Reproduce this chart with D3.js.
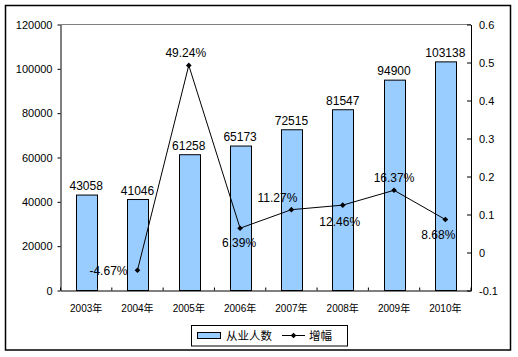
<!DOCTYPE html>
<html><head><meta charset="utf-8">
<script src="https://cdn.jsdelivr.net/npm/d3@7"></script>
<style>
html,body{margin:0;padding:0;background:#fff;}
svg{display:block;}
text{font-family:"Liberation Sans",Arial,"Noto Sans CJK SC",sans-serif;fill:#000;}
.cjk{font-family:"Liberation Sans",Arial,"Noto Sans CJK SC",sans-serif;}
</style>
</head><body>
<svg id="c" width="518" height="357"></svg>
<script>
const categories = ["2003年","2004年","2005年","2006年","2007年","2008年","2009年","2010年"];
const employees = [43058,41046,61258,65173,72515,81547,94900,103138];
const growth = [null,-0.0467,0.4924,0.0639,0.1127,0.1246,0.1637,0.0868];
const growthLabels = ["","-4.67%","49.24%","6.39%","11.27%","12.46%","16.37%","8.68%"];
const leftTicks = [0,20000,40000,60000,80000,100000,120000];
const rightTicks = [-0.1,0,0.1,0.2,0.3,0.4,0.5,0.6];
const rightTickLabels = ["-0.1","0","0.1","0.2","0.3","0.4","0.5","0.6"];
const seriesNames = ["从业人数","增幅"];
// label offsets (style): [dx, dy] relative to the point
const growthLabelOffsets = [[0,0],[-29,5],[-3,-8.5],[-1,18.5],[-14,-7.5],[-3,21],[0,-8.5],[-7,19]];

const svg = d3.select("#c");
const L = 60.5, R = 471, T = 24.5, B = 290.5;

// outer border
svg.append("rect").attr("x",5.5).attr("y",5.5).attr("width",505).attr("height",344.5)
  .attr("fill","#fff").attr("stroke","#000").attr("stroke-width",1.5);

const x = d3.scaleBand().domain(categories).range([L,R]).paddingInner(0.6).paddingOuter(0.3);
const yL = d3.scaleLinear().domain([0,120000]).range([B,T]);
const yR = d3.scaleLinear().domain([-0.1,0.6]).range([B,T]);

// plot area top border (gray)
svg.append("line").attr("x1",L).attr("x2",R).attr("y1",T).attr("y2",T)
  .attr("stroke","#808080").attr("stroke-width",1);

// bars
svg.append("g").selectAll("rect").data(employees).join("rect")
  .attr("x",(d,i)=>Math.round(x(categories[i]))+0.5)
  .attr("y",d=>yL(d))
  .attr("width",Math.round(x.bandwidth()))
  .attr("height",d=>B-yL(d))
  .attr("fill","#99CCFF").attr("stroke","#000").attr("stroke-width",1);

// bar labels
svg.append("g").selectAll("text").data(employees).join("text")
  .attr("x",(d,i)=>x(categories[i])+x.bandwidth()/2)
  .attr("y",d=>yL(d)-5)
  .attr("text-anchor","middle").attr("font-size",12).text(d=>d);

// left axis
const gl = svg.append("g").attr("transform",`translate(${L},0)`)
  .call(d3.axisLeft(yL).tickValues(leftTicks).tickSizeInner(3).tickSizeOuter(0).tickPadding(5).tickFormat(d3.format("d")));
gl.selectAll("text").attr("font-size",11).style("font-family","'Liberation Sans',Arial,sans-serif").attr("fill","#000");
gl.selectAll("line,path").attr("stroke","#000");

// right axis (ticks point inward)
const gr = svg.append("g").attr("transform",`translate(${R},0)`)
  .call(d3.axisRight(yR).tickValues(rightTicks).tickSizeInner(-4).tickSizeOuter(0).tickPadding(8)
    .tickFormat((d,i)=>rightTickLabels[i]));
gr.selectAll("text").attr("font-size",11).style("font-family","'Liberation Sans',Arial,sans-serif").attr("fill","#000");
gr.selectAll("line,path").attr("stroke","#000");

// bottom axis
const gb = svg.append("g").attr("transform",`translate(0,${B})`)
  .call(d3.axisBottom(x).tickSize(0).tickPadding(14));
gb.select(".domain").attr("stroke","#000");
gb.selectAll("text").attr("font-size",10).style("font-family","'Liberation Sans',Arial,'Noto Sans CJK SC',sans-serif").attr("fill","#000");
// category boundary ticks pointing up
const boundaries = d3.range(categories.length+1).map(i=>L + i*x.step() - (i===0?0:0));
svg.append("g").selectAll("line").data(boundaries).join("line")
  .attr("x1",(d,i)=>x(categories[0]) - x.step()*0.3 + i*x.step())
  .attr("x2",(d,i)=>x(categories[0]) - x.step()*0.3 + i*x.step())
  .attr("y1",B-3).attr("y2",B).attr("stroke","#000");

// growth line
const pts = growth.map((v,i)=>({v,i})).filter(d=>d.v!==null);
const line = d3.line().x(d=>x(categories[d.i])+x.bandwidth()/2).y(d=>yR(d.v));
svg.append("path").datum(pts).attr("d",line).attr("fill","none").attr("stroke","#000").attr("stroke-width",1);
const diamond = d3.symbol().type(d3.symbolDiamond2 || d3.symbolDiamond).size(22);
svg.append("g").selectAll("path").data(pts).join("path")
  .attr("transform",d=>`translate(${x(categories[d.i])+x.bandwidth()/2},${yR(d.v)})`)
  .attr("d",d3.symbol().type(d3.symbolSquare).size(16)).attr("transform",d=>`translate(${x(categories[d.i])+x.bandwidth()/2},${yR(d.v)}) rotate(45)`)
  .attr("fill","#000");
svg.append("g").selectAll("text").data(pts).join("text")
  .attr("x",d=>x(categories[d.i])+x.bandwidth()/2+growthLabelOffsets[d.i][0])
  .attr("y",d=>yR(d.v)+growthLabelOffsets[d.i][1])
  .attr("text-anchor","middle").attr("font-size",12).text(d=>growthLabels[d.i]);

// legend
const lg = svg.append("g");
lg.append("rect").attr("x",191.5).attr("y",325.5).attr("width",156).attr("height",20.5)
  .attr("fill","#fff").attr("stroke","#000").attr("stroke-width",1);
lg.append("rect").attr("x",197.5).attr("y",332.5).attr("width",23).attr("height",6)
  .attr("fill","#99CCFF").attr("stroke","#000");
lg.append("text").attr("x",226).attr("y",340).attr("font-size",11.5).text(seriesNames[0]);
lg.append("line").attr("x1",282).attr("x2",305).attr("y1",335.5).attr("y2",335.5).attr("stroke","#000");
lg.append("path").attr("d",d3.symbol().type(d3.symbolSquare).size(16))
  .attr("transform","translate(293.5,335.5) rotate(45)").attr("fill","#000");
lg.append("text").attr("x",309).attr("y",340).attr("font-size",11.5).text(seriesNames[1]);
</script>
</body></html>
